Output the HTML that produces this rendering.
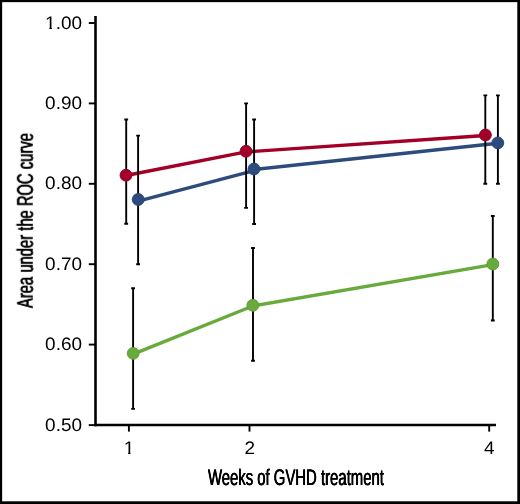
<!DOCTYPE html>
<html>
<head>
<meta charset="utf-8">
<title>Area under the ROC curve by weeks of GVHD treatment</title>
<style>
  html, body { margin: 0; padding: 0; background: #ffffff; }
  body { width: 520px; height: 504px; overflow: hidden; }
  svg { display: block; }
  .t { filter: grayscale(1); }
  text { font-family: "Liberation Sans", sans-serif; fill: #000; text-rendering: geometricPrecision; }
</style>
</head>
<body>
<svg width="520" height="504" viewBox="0 0 520 504">
  <rect x="0" y="0" width="520" height="504" fill="#ffffff"/>

  <!-- outer frame -->
  <rect x="0" y="0" width="520" height="2.15" fill="#000"/>
  <rect x="0" y="0" width="2.15" height="504" fill="#000"/>
  <rect x="517.3" y="0" width="2.7" height="504" fill="#000"/>
  <rect x="0" y="501.3" width="520" height="2.7" fill="#000"/>

  <!-- axes -->
  <g stroke="#000" fill="none" stroke-linecap="butt">
    <line x1="95.5" y1="16" x2="95.5" y2="426.3" stroke-width="2.6"/>
    <line x1="94.2" y1="425.1" x2="496" y2="425.1" stroke-width="2.5"/>
    <!-- y ticks -->
    <g stroke-width="1.9">
      <line x1="88.8" y1="23" x2="95" y2="23"/>
      <line x1="88.8" y1="103.4" x2="95" y2="103.4"/>
      <line x1="88.8" y1="183.8" x2="95" y2="183.8"/>
      <line x1="88.8" y1="264.2" x2="95" y2="264.2"/>
      <line x1="88.8" y1="344.6" x2="95" y2="344.6"/>
      <line x1="88.8" y1="425.1" x2="95" y2="425.1"/>
    </g>
    <!-- x ticks -->
    <g stroke-width="1.9">
      <line x1="128.9" y1="425" x2="128.9" y2="431.6"/>
      <line x1="249.5" y1="425" x2="249.5" y2="431.6"/>
      <line x1="489.2" y1="425" x2="489.2" y2="431.6"/>
    </g>
  </g>

  <!-- y tick labels -->
  <g class="t" font-size="18.1" text-anchor="end">
    <text transform="translate(82 28.5) scale(1.048 1)">1.00</text>
    <text transform="translate(82 108.9) scale(1.048 1)">0.90</text>
    <text transform="translate(82 189.3) scale(1.048 1)">0.80</text>
    <text transform="translate(82 269.7) scale(1.048 1)">0.70</text>
    <text transform="translate(82 350.1) scale(1.048 1)">0.60</text>
    <text transform="translate(82 430.6) scale(1.048 1)">0.50</text>
  </g>

  <!-- x tick labels -->
  <g class="t" font-size="18.1" text-anchor="middle">
    <text transform="translate(129 454) scale(1.048 1)">1</text>
    <text transform="translate(249.7 454) scale(1.048 1)">2</text>
    <text transform="translate(489.2 454) scale(1.048 1)">4</text>
  </g>

  <!-- trim the foot serif of the "1" glyphs so they read like a plain grotesque 1 -->
  <g fill="#ffffff">
    <rect x="124" y="451.8" width="4.1" height="3.1"/>
    <rect x="130.5" y="451.8" width="4" height="3.1"/>
    <rect x="45" y="26.8" width="4.3" height="2.7"/>
    <rect x="51.95" y="26.8" width="3.5" height="2.7"/>
  </g>

  <!-- axis titles (condensed) -->
  <g class="t" font-size="22.6" text-anchor="middle">
    <g transform="translate(295.9 484.6) scale(0.659 1)">
      <text x="-0.4">Weeks of GVHD treatment</text>
      <text x="0">Weeks of GVHD treatment</text>
      <text x="0.4">Weeks of GVHD treatment</text>
    </g>
    <g transform="translate(32.8 220.5) rotate(-90) scale(0.654 1)">
      <text x="-0.4">Area under the ROC curve</text>
      <text x="0">Area under the ROC curve</text>
      <text x="0.4">Area under the ROC curve</text>
    </g>
  </g>

  <!-- series lines -->
  <g fill="none" stroke-width="3.4" stroke-linejoin="round">
    <polyline stroke="#68AA3C" points="133.2,354.1 252.8,306 492.8,264.6"/>
    <polyline stroke="#2E4B7D" points="138.2,201.1 254,170.6"/>
    <polyline stroke="#2E4B7D" points="254,169.5 497.8,143.3"/>
    <polyline stroke="#A30029" points="126,175.5 246,151.9 485.4,135.5"/>
  </g>

  <!-- error bars -->
  <g stroke="#000" stroke-width="1.9" fill="none">
    <!-- red -->
    <path d="M126.2 119.5V223.8M124.3 119.5h3.8M124.3 223.8h3.8"/>
    <path d="M246.1 103.4V207.9M244.2 103.4h3.8M244.2 207.9h3.8"/>
    <path d="M485.3 95.4V183.8M483.4 95.4h3.8M483.4 183.8h3.8"/>
    <!-- blue -->
    <path d="M138.1 135.6V264.2M136.2 135.6h3.8M136.2 264.2h3.8"/>
    <path d="M254.1 119.5V224M252.2 119.5h3.8M252.2 224h3.8"/>
    <path d="M497.9 95.4V183.8M496 95.4h3.8M496 183.8h3.8"/>
    <!-- green -->
    <path d="M133.1 288.3V408.9M131.2 288.3h3.8M131.2 408.9h3.8"/>
    <path d="M253 248V360.8M251.1 248h3.8M251.1 360.8h3.8"/>
    <path d="M492.8 216V320.5M490.9 216h3.8M490.9 320.5h3.8"/>
  </g>

  <!-- markers -->
  <g stroke-width="0.9">
    <g fill="#68AA3C" stroke="#5C9C33">
      <circle cx="133.2" cy="353.4" r="5.95"/>
      <circle cx="252.8" cy="305.3" r="5.95"/>
      <circle cx="492.8" cy="264" r="5.95"/>
    </g>
    <g fill="#2E4B7D" stroke="#27416F">
      <circle cx="138.2" cy="199.5" r="5.95"/>
      <circle cx="254" cy="169" r="5.95"/>
      <circle cx="497.8" cy="142.9" r="5.95"/>
    </g>
    <g fill="#A30029" stroke="#920024">
      <circle cx="126" cy="175.2" r="5.95"/>
      <circle cx="246" cy="151.3" r="5.95"/>
      <circle cx="485.4" cy="135" r="5.95"/>
    </g>
  </g>
</svg>
</body>
</html>
